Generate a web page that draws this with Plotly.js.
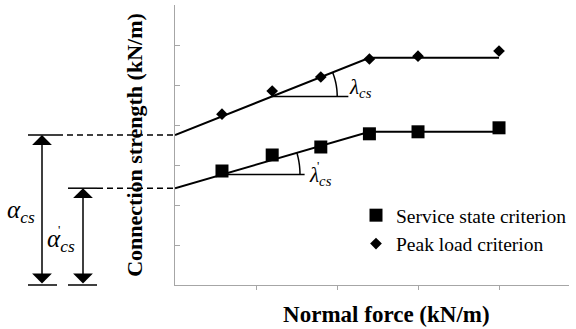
<!DOCTYPE html>
<html>
<head>
<meta charset="utf-8">
<script src="https://cdn.plot.ly/plotly-3.0.1.min.js"></script>
<style>html,body{margin:0;padding:0;background:#fff;}#chart{width:576px;height:329px;}</style>
</head>
<body>
<div id="chart"></div>
<script>
// ---- data ----
var normalForce = [0.58, 1.2, 1.8, 2.4, 3.0, 4.0];
var serviceState = [2.85, 3.25, 3.45, 3.78, 3.83, 3.93];
var peakLoad = [4.27, 4.85, 5.2, 5.65, 5.72, 5.85];
var fitX = [0, 2.4, 4.0];
var serviceFit = [2.42, 3.83, 3.83];
var peakFit = [3.75, 5.68, 5.68];
var seriesNames = ['Service state criterion', 'Peak load criterion'];
var xRange = [0, 4.864];
var yRange = [0, 7];

// ---- geometry helpers ----
var W = 576, H = 329, M = {l: 175, r: 7, t: 5, b: 44, autoexpand: false};
var plotW = W - M.l - M.r, plotH = H - M.t - M.b;
var pxX = plotW / (xRange[1] - xRange[0]);
var pxY = plotH / (yRange[1] - yRange[0]);
function paperX(px) { return (px - M.l) / plotW; }
function paperY(v) { return (v - yRange[0]) / (yRange[1] - yRange[0]); }

function arcPath(cx, cy, slope, rpx) {
  var theta = Math.atan(slope * pxY / pxX);
  var pts = [];
  for (var i = 0; i <= 20; i++) {
    var t = theta * i / 20;
    pts.push([cx + rpx * Math.cos(t) / pxX, cy + rpx * Math.sin(t) / pxY]);
  }
  return 'M' + pts.map(function (p) { return p[0].toFixed(4) + ',' + p[1].toFixed(4); }).join(' L');
}
function lineY(fx, fy, x) { return fy[0] + (fy[1] - fy[0]) * (x - fx[0]) / (fx[1] - fx[0]); }

var slopeP = (peakFit[1] - peakFit[0]) / (fitX[1] - fitX[0]);
var slopeS = (serviceFit[1] - serviceFit[0]) / (fitX[1] - fitX[0]);
var cPx = normalForce[1], cPy = lineY(fitX, peakFit, cPx);
var cSx = normalForce[0], cSy = lineY(fitX, serviceFit, cSx);

var serif = 'Liberation Serif';
function fnt(size) { return {family: serif, size: size, color: '#000'}; }

var traces = [
  {x: fitX, y: peakFit, mode: 'lines', line: {color: '#000', width: 2}, showlegend: false, hoverinfo: 'skip'},
  {x: fitX, y: serviceFit, mode: 'lines', line: {color: '#000', width: 2}, showlegend: false, hoverinfo: 'skip'},
  {x: normalForce, y: serviceState, mode: 'markers', name: seriesNames[0],
   marker: {symbol: 'square', size: 13, color: '#000'}},
  {x: normalForce, y: peakLoad, mode: 'markers', name: seriesNames[1],
   marker: {symbol: 'diamond', size: 9, color: '#000'}}
];

var blk = {color: '#000', width: 1.5};
var dsh = {color: '#000', width: 1.5, dash: '6px,4px'};
var shapes = [
  {type: 'line', xref: 'x', yref: 'y', x0: cPx, x1: 2.14, y0: cPy, y1: cPy, line: blk},
  {type: 'path', xref: 'x', yref: 'y', path: arcPath(cPx, cPy, slopeP, 65), line: blk},
  {type: 'line', xref: 'x', yref: 'y', x0: cSx, x1: 1.6, y0: cSy, y1: cSy, line: blk},
  {type: 'path', xref: 'x', yref: 'y', path: arcPath(cSx, cSy, slopeS, 78), line: blk},
  {type: 'line', xref: 'paper', yref: 'paper', x0: paperX(28), x1: paperX(57), y0: paperY(peakFit[0]), y1: paperY(peakFit[0]), line: blk},
  {type: 'line', xref: 'paper', yref: 'paper', x0: paperX(57), x1: 0, y0: paperY(peakFit[0]), y1: paperY(peakFit[0]), line: dsh},
  {type: 'line', xref: 'paper', yref: 'paper', x0: paperX(68), x1: paperX(97), y0: paperY(serviceFit[0]), y1: paperY(serviceFit[0]), line: blk},
  {type: 'line', xref: 'paper', yref: 'paper', x0: paperX(97), x1: 0, y0: paperY(serviceFit[0]), y1: paperY(serviceFit[0]), line: dsh},
  {type: 'line', xref: 'paper', yref: 'paper', x0: paperX(28), x1: paperX(57), y0: 0, y1: 0, line: blk},
  {type: 'line', xref: 'paper', yref: 'paper', x0: paperX(68), x1: paperX(97), y0: 0, y1: 0, line: blk}
];

function dimArrow(px, top) {
  return {xref: 'paper', yref: 'y', x: paperX(px), y: top, axref: 'pixel', ayref: 'y', ax: 0, ay: 0,
    text: '', showarrow: true, arrowhead: 1, startarrowhead: 1, arrowside: 'end+start',
    arrowsize: 2.2, startarrowsize: 2.2, arrowwidth: 1.5, arrowcolor: '#000', standoff: 0, startstandoff: 0};
}
function txt(xref, yref, x, y, t, size) {
  return {xref: xref, yref: yref, x: x, y: y, xanchor: 'center', yanchor: 'middle',
    text: t, showarrow: false, font: fnt(size)};
}

var annotations = [
  dimArrow(42, peakFit[0]),
  dimArrow(83, serviceFit[0]),
  txt('paper', 'paper', paperX(21), paperY(1.85), '<i>α</i><sub><i>cs</i></sub>', 25),
  txt('paper', 'paper', paperX(61), paperY(1.12), '<i>α</i><sub><i>cs</i></sub>', 25),
  txt('paper', 'paper', paperX(59), paperY(1.4), "'", 13),
  txt('x', 'y', 2.29, 4.93, '<i>λ</i><sub><i>cs</i></sub>', 21),
  txt('x', 'y', 1.80, 2.72, '<i>λ</i><sub><i>cs</i></sub>', 21),
  txt('x', 'y', 1.76, 2.99, "'", 13)
];

var layout = {
  width: W, height: H,
  margin: M,
  paper_bgcolor: '#fff', plot_bgcolor: '#fff',
  xaxis: {
    range: xRange, showgrid: false, zeroline: false, showline: true, linecolor: '#a6a6a6', linewidth: 1,
    automargin: false,
    ticks: 'outside', ticklen: 4, tickcolor: '#a6a6a6', tickvals: [1, 2, 3, 4], showticklabels: false,
    title: {text: '&nbsp;&nbsp;&nbsp;&nbsp;&nbsp;<b>Normal force (kN/m)</b>', font: fnt(23), standoff: 16}
  },
  yaxis: {
    range: yRange, showgrid: false, zeroline: false, showline: true, linecolor: '#a6a6a6', linewidth: 1,
    automargin: false,
    ticks: 'inside', ticklen: 5, tickcolor: '#a6a6a6', dtick: 1, showticklabels: false,
    title: {text: '<b>Connection strength (kN/m)</b>', font: fnt(22), standoff: 25}
  },
  showlegend: true,
  legend: {x: paperX(356), y: paperY((285 - 196) / 40), xanchor: 'left', yanchor: 'top',
           font: fnt(19.5), bgcolor: 'rgba(0,0,0,0)', itemwidth: 30, tracegroupgap: 0},
  shapes: shapes,
  annotations: annotations
};

Plotly.newPlot('chart', traces, layout, {displayModeBar: false});
</script>
</body>
</html>
